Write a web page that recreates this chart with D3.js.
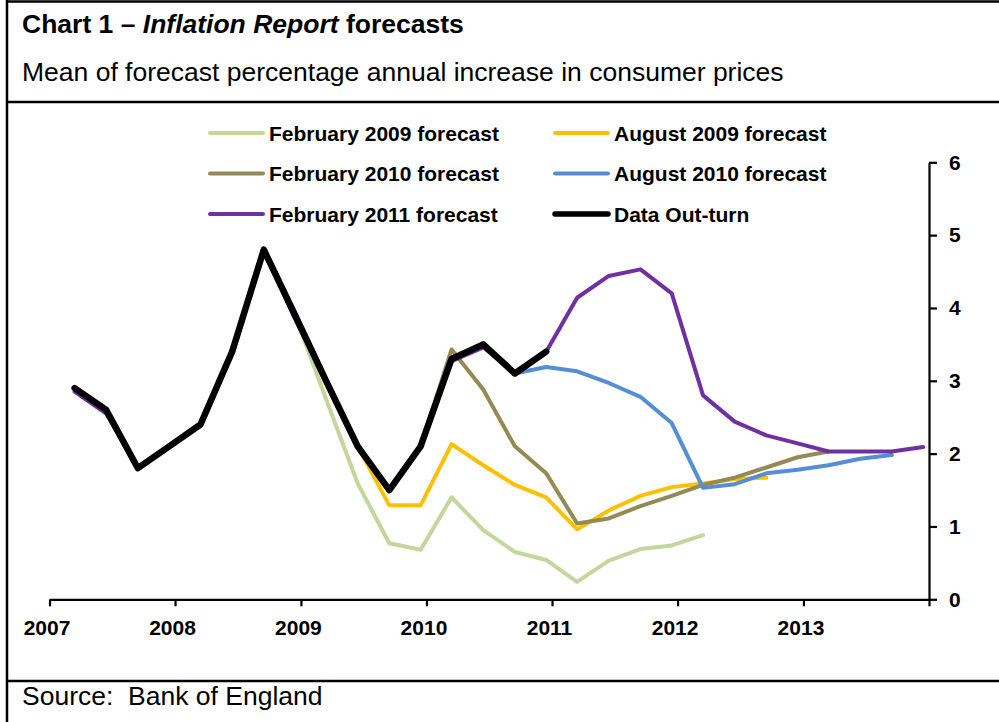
<!DOCTYPE html>
<html lang="en">
<head>
  <meta charset="UTF-8">
  <title>Inflation Report forecasts</title>
  <style>
    body { margin: 0; background: #fff; }
    svg { display: block; font-family: "Liberation Sans", Arial, sans-serif; }
    text { white-space: pre; }
  </style>
</head>
<body>
  <script src="https://d3js.org/d3.v7.min.js"></script>
  <script>
    const quarters = [
      "2007 Q1", "2007 Q2", "2007 Q3", "2007 Q4",
      "2008 Q1", "2008 Q2", "2008 Q3", "2008 Q4",
      "2009 Q1", "2009 Q2", "2009 Q3", "2009 Q4",
      "2010 Q1", "2010 Q2", "2010 Q3", "2010 Q4",
      "2011 Q1", "2011 Q2", "2011 Q3", "2011 Q4",
      "2012 Q1", "2012 Q2", "2012 Q3", "2012 Q4",
      "2013 Q1", "2013 Q2", "2013 Q3", "2013 Q4"
    ];
    const feb2009 = [null, null, null, null, null, null, null, 3.9,
      2.75, 1.59, 0.77, 0.68, 1.40, 0.95, 0.65, 0.54,
      0.24, 0.53, 0.69, 0.74, 0.88, null, null, null,
      null, null, null, null];
    const aug2009 = [null, null, null, null, null, null, null, null,
      null, 2.1, 1.29, 1.29, 2.13, 1.84, 1.57, 1.40,
      0.96, 1.22, 1.42, 1.54, 1.59, 1.65, 1.67, null,
      null, null, null, null];
    const feb2010 = [null, null, null, null, null, null, null, null,
      null, null, null, 2.1, 3.43, 2.88, 2.10, 1.73,
      1.04, 1.11, 1.28, 1.42, 1.57, 1.67, 1.81, 1.95,
      2.03, null, null, null];
    const aug2010 = [null, null, null, null, null, null, null, null,
      null, null, null, null, null, 3.5, 3.1, 3.19,
      3.13, 2.97, 2.78, 2.42, 1.53, 1.58, 1.73, 1.78,
      1.84, 1.93, 1.98, null];
    const feb2011 = [2.85, 2.55, 1.8, 2.1, 2.4, 3.4, 4.8, 3.85,
      3.0, 2.1, 1.5, 2.1, 3.27, 3.46, 3.1, 3.4,
      4.14, 4.44, 4.53, 4.2, 2.8, 2.44, 2.25, 2.14,
      2.03, 2.03, 2.03, 2.09];
    const outturn = [2.9, 2.6, 1.8, 2.1, 2.4, 3.4, 4.8, 3.9,
      3.0, 2.1, 1.5, 2.1, 3.3, 3.5, 3.1, 3.4,
      null, null, null, null, null, null, null, null,
      null, null, null, null];
    const seriesNames = ["February 2009 forecast", "August 2009 forecast",
      "February 2010 forecast", "August 2010 forecast",
      "February 2011 forecast", "Data Out-turn"];
    const seriesValues = [feb2009, aug2009, feb2010, aug2010, feb2011, outturn];
    const seriesColors = ["#c3d69b", "#ffc000", "#948a54", "#558ed5", "#7030a0", "#000000"];
    const yTicks = [0, 1, 2, 3, 4, 5, 6];

    const width = 999;
    const height = 722;

    const svg = d3.select("body").append("svg").attr("width", width).attr("height", height);

    // frame
    svg.append("line").attr("x1", 7).attr("x2", 7).attr("y1", 0).attr("y2", height)
      .attr("stroke", "#000").attr("stroke-width", 2.5);
    [1.5, 102, 681].forEach(function(y) {
      svg.append("line").attr("x1", 6).attr("x2", width).attr("y1", y).attr("y2", y)
        .attr("stroke", "#000").attr("stroke-width", 2.5);
    });

    const title = svg.append("text").attr("x", 22).attr("y", 33)
      .attr("font-size", 26.5).attr("font-weight", "bold");
    title.append("tspan").text("Chart 1 \u2013 ");
    title.append("tspan").attr("font-style", "italic").text("Inflation Report");
    title.append("tspan").text(" forecasts");

    svg.append("text").attr("x", 22).attr("y", 81).attr("font-size", 26.5)
      .text("Mean of forecast percentage annual increase in consumer prices");

    svg.append("text").attr("x", 22).attr("y", 705).attr("font-size", 26.5)
      .text("Source:\u00a0 Bank of England");

    const parseQ = function(s) {
      const yr = +s.slice(0, 4);
      const q = +s.slice(6);
      return new Date(yr, q * 3 - 1, 15);
    };

    const xScale = d3.scaleTime()
      .domain([new Date(2007, 0, 1), new Date(2014, 0, 1)])
      .range([49.5, 929]);
    const yScale = d3.scaleLinear()
      .domain([0, 6])
      .range([599.3, 162.3]);

    const axisX = d3.axisBottom(xScale)
      .ticks(d3.timeYear.every(1))
      .tickSize(7).tickSizeOuter(0).tickPadding(14)
      .tickFormat(function(d) { return d.getFullYear() < 2014 ? d.getFullYear() : ""; });
    const axisY = d3.axisRight(yScale)
      .tickValues(yTicks)
      .tickSize(8).tickSizeOuter(0).tickPadding(12)
      .tickFormat(d3.format("d"));

    const gx = svg.append("g")
      .attr("transform", "translate(0," + yScale(0) + ")")
      .call(axisX);
    const gy = svg.append("g")
      .attr("transform", "translate(" + xScale(new Date(2014, 0, 1)) + ",0)")
      .call(axisY);

    [gx, gy].forEach(function(g) {
      g.select(".domain").attr("stroke", "#000").attr("stroke-width", 2.2);
      g.selectAll(".tick line").attr("stroke", "#000").attr("stroke-width", 2.2);
      g.selectAll(".tick text").attr("fill", "#000").attr("font-size", 21)
        .attr("font-weight", "bold").attr("font-family", "Liberation Sans, Arial, sans-serif");
    });
    gx.selectAll(".tick text").attr("dx", -3);

    const line = d3.line()
      .defined(function(d) { return d.v != null; })
      .x(function(d) { return xScale(d.date); })
      .y(function(d) { return yScale(d.v); });

    seriesValues.forEach(function(vals, i) {
      const pts = quarters.map(function(q, j) { return { date: parseQ(q), v: vals[j] }; });
      svg.append("path")
        .datum(pts)
        .attr("d", line)
        .attr("fill", "none")
        .attr("stroke", seriesColors[i])
        .attr("stroke-width", i === 5 ? 6.5 : 4)
        .attr("stroke-linejoin", "round")
        .attr("stroke-linecap", "round");
    });

    // legend
    const legend = svg.selectAll(".legend")
      .data(seriesNames)
      .enter()
      .append("g")
      .attr("transform", function(d, i) {
        return "translate(" + (i % 2 === 0 ? 210 : 555) + "," + (133 + Math.floor(i / 2) * 40.5) + ")";
      });
    legend.append("line")
      .attr("x1", 0).attr("x2", 53).attr("y1", 0).attr("y2", 0)
      .attr("stroke", function(d, i) { return seriesColors[i]; })
      .attr("stroke-width", function(d, i) { return i === 5 ? 5.5 : 4; })
      .attr("stroke-linecap", "round");
    legend.append("text")
      .attr("x", 59).attr("y", 7.5)
      .attr("font-size", 21).attr("font-weight", "bold")
      .text(function(d) { return d; });
  </script>
</body>
</html>
